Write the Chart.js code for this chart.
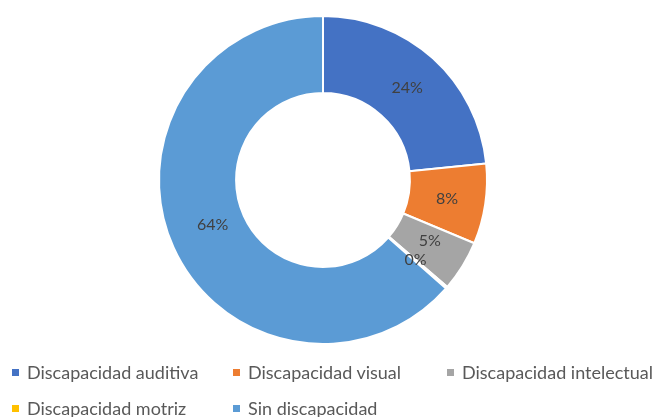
<!DOCTYPE html>
<html>
<head>
<meta charset="utf-8">
<script src="https://cdn.jsdelivr.net/npm/chart.js@4"></script>
<style>
html,body{margin:0;padding:0;background:#fff;width:657px;height:417px;overflow:hidden;}
#wrap{position:absolute;left:0;top:0;width:657px;height:360px;}
#legend{position:absolute;left:0;top:0;width:657px;height:417px;pointer-events:none;font-family:Lato,sans-serif;font-size:18px;color:#595959;}
.li{position:absolute;white-space:nowrap;line-height:20px;}
.sw{position:absolute;width:7px;height:7px;}
</style>
</head>
<body>
<div id="wrap"><canvas id="c"></canvas></div>
<div id="legend"></div>
<script>
const categories = ["Discapacidad auditiva","Discapacidad visual","Discapacidad intelectual","Discapacidad motriz","Sin discapacidad"];
const values = [23.4, 7.9, 5.0, 0.2, 63.5];
const labelsShown = ["24%","8%","5%","0%","64%"];
const colors = ["#4472C4","#ED7D31","#A5A5A5","#FFC000","#5B9BD5"];

const legendPos = [[12,362],[233,362],[447,362],[12,398],[233,398]];
const leg = document.getElementById('legend');
categories.forEach((c,i)=>{
  const [x,y]=legendPos[i];
  const s=document.createElement('div');s.className='sw';s.style.left=x+'px';s.style.top=(y+7)+'px';s.style.background=colors[i];leg.appendChild(s);
  const t=document.createElement('div');t.className='li';t.style.left=(x+15)+'px';t.style.top=y+'px';t.textContent=c;leg.appendChild(t);
});

const labelPlugin = {
  id:'sliceLabels',
  afterDatasetsDraw(chart){
    const ctx=chart.ctx;
    const meta=chart.getDatasetMeta(0);
    ctx.save();
    ctx.font='16px Lato, sans-serif';
    ctx.fillStyle='#404040';
    ctx.textAlign='center';ctx.textBaseline='middle';
    meta.data.forEach((arc,i)=>{
      const p=arc.tooltipPosition();
      let dx = 0, dy = 0;
      if(i===0) dy=1;
      if(i===2) dy=-5;
      if(i===3) {dy=-3; dx=-2;}
      if(i===4) {dx=4; dy=-7;}
      ctx.fillText(labelsShown[i], p.x+dx, p.y+dy);
    });
    ctx.restore();
  }
};

new Chart(document.getElementById('c'),{
  type:'doughnut',
  data:{labels:categories,datasets:[{data:values,backgroundColor:colors,borderColor:'#fff',borderWidth:2}]},
  options:{
    responsive:true,maintainAspectRatio:false,animation:false,
    cutout:'53%',
    layout:{padding:{top:15,bottom:15,left:0,right:11}},
    plugins:{legend:{display:false},tooltip:{enabled:false}}
  },
  plugins:[labelPlugin]
});
</script>
</body>
</html>
